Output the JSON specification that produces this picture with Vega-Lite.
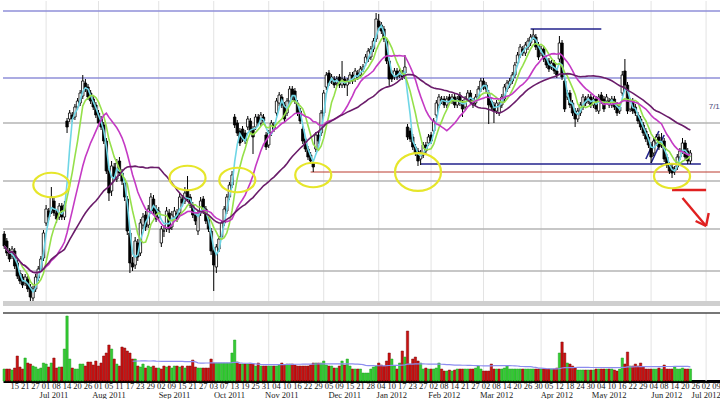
{
"$schema": "https://vega.github.io/schema/vega-lite/v6.json",
"padding": 0,
"spacing": 5,
"background": "white",
"config": {"view": {"stroke": null}, "font": "Liberation Sans"},
"resolve": {"scale": {"x": "independent", "y": "independent"}},
"datasets": {
"ohlc": [
{"d":"2011-06-09","o":26.7,"h":27.0,"l":25.2,"c":25.5,"v":12},
{"d":"2011-06-10","o":26.0,"h":26.3,"l":24.5,"c":24.8,"v":12},
{"d":"2011-06-13","o":25.0,"h":25.3,"l":23.9,"c":24.2,"v":12},
{"d":"2011-06-14","o":24.5,"h":25.5,"l":24.2,"c":25.2,"v":11},
{"d":"2011-06-15","o":25.0,"h":25.3,"l":23.2,"c":23.5,"v":13},
{"d":"2011-06-16","o":23.8,"h":24.1,"l":22.2,"c":22.5,"v":25},
{"d":"2011-06-17","o":22.8,"h":23.1,"l":21.7,"c":22.0,"v":14},
{"d":"2011-06-20","o":22.4,"h":22.7,"l":21.3,"c":21.6,"v":12},
{"d":"2011-06-21","o":21.8,"h":22.7,"l":21.5,"c":22.4,"v":23},
{"d":"2011-06-22","o":22.2,"h":22.5,"l":20.9,"c":21.2,"v":18},
{"d":"2011-06-23","o":21.4,"h":21.7,"l":20.0,"c":20.4,"v":17},
{"d":"2011-06-24","o":20.3,"h":21.5,"l":20.0,"c":21.2,"v":15},
{"d":"2011-06-27","o":21.2,"h":22.7,"l":20.9,"c":22.4,"v":14},
{"d":"2011-06-28","o":22.3,"h":23.5,"l":22.0,"c":23.2,"v":12},
{"d":"2011-06-29","o":23.2,"h":24.5,"l":22.9,"c":24.2,"v":13},
{"d":"2011-06-30","o":24.3,"h":27.1,"l":24.0,"c":26.8,"v":18},
{"d":"2011-07-01","o":27.8,"h":29.6,"l":27.5,"c":29.2,"v":17},
{"d":"2011-07-05","o":29.0,"h":29.3,"l":28.1,"c":28.4,"v":14},
{"d":"2011-07-06","o":29.0,"h":31.4,"l":28.7,"c":30.4,"v":18},
{"d":"2011-07-07","o":30.0,"h":30.3,"l":28.5,"c":28.8,"v":23},
{"d":"2011-07-08","o":28.8,"h":29.1,"l":27.8,"c":28.2,"v":13},
{"d":"2011-07-11","o":28.4,"h":29.8,"l":28.1,"c":29.5,"v":14},
{"d":"2011-07-12","o":29.5,"h":29.8,"l":28.1,"c":28.4,"v":14},
{"d":"2011-07-13","o":28.4,"h":30.0,"l":28.1,"c":29.6,"v":32},
{"d":"2011-07-14","o":38.0,"h":38.3,"l":36.8,"c":37.4,"v":65},
{"d":"2011-07-15","o":38.2,"h":39.1,"l":37.9,"c":38.8,"v":22},
{"d":"2011-07-18","o":38.6,"h":38.9,"l":37.9,"c":38.2,"v":13},
{"d":"2011-07-19","o":38.4,"h":39.7,"l":38.1,"c":39.4,"v":12},
{"d":"2011-07-20","o":39.4,"h":40.3,"l":39.1,"c":40.0,"v":12},
{"d":"2011-07-21","o":39.8,"h":41.1,"l":39.5,"c":40.8,"v":17},
{"d":"2011-07-22","o":40.5,"h":42.6,"l":40.2,"c":42.0,"v":17},
{"d":"2011-07-25","o":41.8,"h":42.2,"l":40.9,"c":41.2,"v":15},
{"d":"2011-07-26","o":41.4,"h":41.7,"l":40.1,"c":40.4,"v":19},
{"d":"2011-07-27","o":40.8,"h":41.1,"l":39.7,"c":40.0,"v":19},
{"d":"2011-07-28","o":40.2,"h":40.5,"l":39.1,"c":39.4,"v":16},
{"d":"2011-07-29","o":39.6,"h":39.9,"l":38.3,"c":38.6,"v":20},
{"d":"2011-08-01","o":38.8,"h":39.1,"l":37.5,"c":37.8,"v":15},
{"d":"2011-08-02","o":38.2,"h":38.5,"l":37.1,"c":37.4,"v":18},
{"d":"2011-08-03","o":37.6,"h":37.9,"l":35.7,"c":36.0,"v":25},
{"d":"2011-08-04","o":36.0,"h":36.3,"l":32.7,"c":33.0,"v":28},
{"d":"2011-08-05","o":33.0,"h":33.3,"l":30.0,"c":30.8,"v":36},
{"d":"2011-08-08","o":31.0,"h":34.0,"l":30.5,"c":33.5,"v":32},
{"d":"2011-08-09","o":33.4,"h":33.8,"l":32.0,"c":32.4,"v":22},
{"d":"2011-08-10","o":32.2,"h":34.2,"l":31.9,"c":33.8,"v":17},
{"d":"2011-08-11","o":34.0,"h":34.4,"l":32.5,"c":32.8,"v":15},
{"d":"2011-08-12","o":32.8,"h":33.2,"l":31.6,"c":32.0,"v":34},
{"d":"2011-08-15","o":31.8,"h":32.2,"l":30.0,"c":30.4,"v":33},
{"d":"2011-08-16","o":30.2,"h":30.5,"l":26.6,"c":27.0,"v":30},
{"d":"2011-08-17","o":26.8,"h":27.1,"l":22.8,"c":23.8,"v":28},
{"d":"2011-08-18","o":23.8,"h":24.4,"l":23.0,"c":23.4,"v":22},
{"d":"2011-08-19","o":23.6,"h":26.4,"l":23.2,"c":26.0,"v":22},
{"d":"2011-08-22","o":25.8,"h":26.2,"l":24.0,"c":24.4,"v":15},
{"d":"2011-08-23","o":24.8,"h":28.2,"l":24.5,"c":27.8,"v":14},
{"d":"2011-08-24","o":27.6,"h":28.8,"l":27.2,"c":28.4,"v":17},
{"d":"2011-08-25","o":28.6,"h":29.0,"l":27.0,"c":27.4,"v":13},
{"d":"2011-08-26","o":27.6,"h":29.6,"l":27.3,"c":29.2,"v":15},
{"d":"2011-08-29","o":29.0,"h":30.8,"l":28.7,"c":30.4,"v":14},
{"d":"2011-08-30","o":30.2,"h":30.6,"l":28.7,"c":29.0,"v":15},
{"d":"2011-08-31","o":29.2,"h":29.6,"l":27.9,"c":28.2,"v":13},
{"d":"2011-09-01","o":28.4,"h":29.4,"l":28.0,"c":29.0,"v":13},
{"d":"2011-09-02","o":25.8,"h":27.5,"l":25.4,"c":27.2,"v":12},
{"d":"2011-09-06","o":27.0,"h":27.6,"l":26.4,"c":27.0,"v":15},
{"d":"2011-09-07","o":27.2,"h":29.4,"l":26.9,"c":29.0,"v":14},
{"d":"2011-09-08","o":28.8,"h":29.2,"l":26.8,"c":27.2,"v":15},
{"d":"2011-09-09","o":27.4,"h":29.0,"l":27.1,"c":28.6,"v":13},
{"d":"2011-09-12","o":28.4,"h":29.4,"l":28.1,"c":29.0,"v":15},
{"d":"2011-09-13","o":28.8,"h":29.2,"l":27.9,"c":28.2,"v":15},
{"d":"2011-09-14","o":28.8,"h":30.8,"l":28.5,"c":30.4,"v":14},
{"d":"2011-09-15","o":30.2,"h":30.6,"l":29.5,"c":29.8,"v":15},
{"d":"2011-09-16","o":30.0,"h":31.4,"l":29.7,"c":30.8,"v":13},
{"d":"2011-09-19","o":31.0,"h":32.5,"l":29.9,"c":30.2,"v":15},
{"d":"2011-09-20","o":30.4,"h":30.7,"l":29.3,"c":29.6,"v":15},
{"d":"2011-09-21","o":29.6,"h":29.9,"l":28.3,"c":28.6,"v":21},
{"d":"2011-09-22","o":28.6,"h":28.9,"l":27.6,"c":28.0,"v":14},
{"d":"2011-09-23","o":27.0,"h":29.1,"l":26.6,"c":28.8,"v":13},
{"d":"2011-09-26","o":28.8,"h":30.4,"l":28.5,"c":30.0,"v":13},
{"d":"2011-09-27","o":30.2,"h":30.5,"l":28.7,"c":29.0,"v":13},
{"d":"2011-09-28","o":29.2,"h":29.5,"l":27.7,"c":28.0,"v":13},
{"d":"2011-09-29","o":28.2,"h":28.5,"l":26.9,"c":27.2,"v":13},
{"d":"2011-09-30","o":27.0,"h":27.3,"l":24.6,"c":25.0,"v":22},
{"d":"2011-10-03","o":25.0,"h":25.3,"l":21.0,"c":23.6,"v":18},
{"d":"2011-10-04","o":23.4,"h":25.7,"l":22.8,"c":25.4,"v":18},
{"d":"2011-10-05","o":25.2,"h":26.5,"l":24.9,"c":26.2,"v":18},
{"d":"2011-10-06","o":26.4,"h":28.1,"l":26.1,"c":27.8,"v":18},
{"d":"2011-10-07","o":27.8,"h":29.5,"l":27.5,"c":29.2,"v":18},
{"d":"2011-10-10","o":29.0,"h":30.7,"l":28.7,"c":30.4,"v":18},
{"d":"2011-10-11","o":30.4,"h":31.9,"l":30.1,"c":31.6,"v":18},
{"d":"2011-10-12","o":31.6,"h":33.0,"l":31.3,"c":32.6,"v":28},
{"d":"2011-10-13","o":38.4,"h":38.7,"l":37.3,"c":37.6,"v":41},
{"d":"2011-10-14","o":37.8,"h":38.1,"l":36.5,"c":36.8,"v":19},
{"d":"2011-10-17","o":37.0,"h":37.3,"l":35.5,"c":35.8,"v":17},
{"d":"2011-10-18","o":37.2,"h":37.5,"l":35.9,"c":36.2,"v":17},
{"d":"2011-10-19","o":36.8,"h":37.1,"l":35.7,"c":36.0,"v":17},
{"d":"2011-10-20","o":37.4,"h":38.5,"l":37.1,"c":38.2,"v":17},
{"d":"2011-10-21","o":38.0,"h":38.3,"l":36.7,"c":37.0,"v":17},
{"d":"2011-10-24","o":37.2,"h":37.5,"l":34.7,"c":36.4,"v":17},
{"d":"2011-10-25","o":37.4,"h":38.7,"l":37.1,"c":38.4,"v":15},
{"d":"2011-10-26","o":38.4,"h":38.7,"l":37.5,"c":37.8,"v":18},
{"d":"2011-10-27","o":37.8,"h":38.9,"l":37.5,"c":38.6,"v":15},
{"d":"2011-10-28","o":38.4,"h":38.7,"l":37.7,"c":38.0,"v":15},
{"d":"2011-10-31","o":36.6,"h":36.9,"l":35.1,"c":35.4,"v":15},
{"d":"2011-11-01","o":35.6,"h":37.1,"l":35.3,"c":36.8,"v":15},
{"d":"2011-11-02","o":36.8,"h":38.1,"l":36.5,"c":37.8,"v":15},
{"d":"2011-11-03","o":37.6,"h":37.9,"l":36.9,"c":37.2,"v":15},
{"d":"2011-11-04","o":38.8,"h":40.3,"l":38.5,"c":40.0,"v":15},
{"d":"2011-11-07","o":39.8,"h":40.9,"l":39.5,"c":40.6,"v":16},
{"d":"2011-11-08","o":40.4,"h":40.7,"l":39.3,"c":39.6,"v":18},
{"d":"2011-11-09","o":39.6,"h":39.9,"l":37.9,"c":38.2,"v":16},
{"d":"2011-11-10","o":38.8,"h":40.3,"l":38.5,"c":40.0,"v":17},
{"d":"2011-11-11","o":40.0,"h":41.5,"l":39.7,"c":41.2,"v":17},
{"d":"2011-11-14","o":41.2,"h":41.5,"l":40.1,"c":40.4,"v":17},
{"d":"2011-11-15","o":41.0,"h":41.3,"l":39.7,"c":40.0,"v":16},
{"d":"2011-11-16","o":39.8,"h":40.1,"l":38.5,"c":38.8,"v":15},
{"d":"2011-11-17","o":39.0,"h":39.3,"l":37.7,"c":38.0,"v":15},
{"d":"2011-11-18","o":37.2,"h":37.5,"l":35.7,"c":36.0,"v":15},
{"d":"2011-11-21","o":36.2,"h":36.5,"l":34.9,"c":35.2,"v":15},
{"d":"2011-11-22","o":35.2,"h":35.5,"l":34.1,"c":34.4,"v":15},
{"d":"2011-11-23","o":34.6,"h":34.9,"l":33.7,"c":34.0,"v":16},
{"d":"2011-11-25","o":33.8,"h":34.1,"l":32.9,"c":33.4,"v":18},
{"d":"2011-11-28","o":35.2,"h":36.9,"l":34.9,"c":36.6,"v":18},
{"d":"2011-11-29","o":36.6,"h":36.9,"l":35.7,"c":36.0,"v":18},
{"d":"2011-11-30","o":36.8,"h":39.1,"l":36.5,"c":38.8,"v":18},
{"d":"2011-12-01","o":38.8,"h":41.1,"l":38.5,"c":40.8,"v":20},
{"d":"2011-12-02","o":41.4,"h":42.9,"l":41.1,"c":42.6,"v":16},
{"d":"2011-12-05","o":42.8,"h":43.1,"l":41.5,"c":41.8,"v":15},
{"d":"2011-12-06","o":42.0,"h":42.7,"l":41.7,"c":42.4,"v":15},
{"d":"2011-12-07","o":42.2,"h":42.5,"l":41.3,"c":41.6,"v":13},
{"d":"2011-12-08","o":41.8,"h":42.5,"l":41.5,"c":42.2,"v":13},
{"d":"2011-12-09","o":42.4,"h":42.7,"l":41.3,"c":41.6,"v":15},
{"d":"2011-12-12","o":41.6,"h":44.0,"l":41.3,"c":42.2,"v":20},
{"d":"2011-12-13","o":42.2,"h":42.5,"l":41.3,"c":41.6,"v":16},
{"d":"2011-12-14","o":41.6,"h":42.3,"l":40.5,"c":42.0,"v":22},
{"d":"2011-12-15","o":42.0,"h":42.9,"l":41.7,"c":42.6,"v":15},
{"d":"2011-12-16","o":42.6,"h":42.9,"l":41.7,"c":42.0,"v":12},
{"d":"2011-12-19","o":42.2,"h":43.3,"l":41.9,"c":43.0,"v":12},
{"d":"2011-12-20","o":42.8,"h":43.1,"l":42.1,"c":42.4,"v":12},
{"d":"2011-12-21","o":42.6,"h":43.5,"l":42.3,"c":43.2,"v":12},
{"d":"2011-12-22","o":43.2,"h":43.7,"l":42.9,"c":43.4,"v":8},
{"d":"2011-12-23","o":43.8,"h":44.7,"l":43.5,"c":44.4,"v":8},
{"d":"2011-12-27","o":44.2,"h":45.3,"l":43.9,"c":45.0,"v":8},
{"d":"2011-12-28","o":44.4,"h":45.5,"l":44.1,"c":45.2,"v":12},
{"d":"2011-12-29","o":45.2,"h":46.3,"l":44.9,"c":46.0,"v":14},
{"d":"2011-12-30","o":46.2,"h":48.8,"l":45.9,"c":48.2,"v":15},
{"d":"2012-01-03","o":48.0,"h":48.7,"l":47.1,"c":47.4,"v":18},
{"d":"2012-01-04","o":47.6,"h":47.9,"l":46.7,"c":47.0,"v":16},
{"d":"2012-01-05","o":47.2,"h":47.5,"l":45.9,"c":46.2,"v":15},
{"d":"2012-01-06","o":46.0,"h":46.3,"l":43.7,"c":44.0,"v":20},
{"d":"2012-01-09","o":44.0,"h":44.3,"l":41.5,"c":42.2,"v":28},
{"d":"2012-01-10","o":42.8,"h":43.1,"l":41.9,"c":42.2,"v":22},
{"d":"2012-01-11","o":42.4,"h":43.3,"l":42.1,"c":43.0,"v":15},
{"d":"2012-01-12","o":43.0,"h":43.3,"l":42.1,"c":42.4,"v":12},
{"d":"2012-01-13","o":42.6,"h":43.3,"l":42.3,"c":43.0,"v":18},
{"d":"2012-01-17","o":42.8,"h":43.1,"l":42.1,"c":42.4,"v":30},
{"d":"2012-01-18","o":42.8,"h":44.6,"l":42.2,"c":43.4,"v":24},
{"d":"2012-01-19","o":37.4,"h":37.7,"l":36.1,"c":36.4,"v":50},
{"d":"2012-01-20","o":37.0,"h":37.3,"l":35.9,"c":36.2,"v":17},
{"d":"2012-01-23","o":36.4,"h":36.7,"l":35.1,"c":35.4,"v":22},
{"d":"2012-01-24","o":35.4,"h":35.7,"l":34.5,"c":34.8,"v":24},
{"d":"2012-01-25","o":35.0,"h":35.3,"l":33.5,"c":34.0,"v":20},
{"d":"2012-01-26","o":34.2,"h":35.1,"l":33.6,"c":34.8,"v":18},
{"d":"2012-01-27","o":34.6,"h":35.9,"l":34.3,"c":35.6,"v":12},
{"d":"2012-01-30","o":35.6,"h":35.9,"l":34.7,"c":35.0,"v":13},
{"d":"2012-01-31","o":35.8,"h":36.7,"l":35.5,"c":36.4,"v":12},
{"d":"2012-02-01","o":36.6,"h":36.9,"l":35.7,"c":36.0,"v":12},
{"d":"2012-02-02","o":37.0,"h":38.3,"l":36.7,"c":38.0,"v":12},
{"d":"2012-02-03","o":38.6,"h":40.1,"l":38.3,"c":39.8,"v":13},
{"d":"2012-02-06","o":39.6,"h":40.7,"l":39.3,"c":40.4,"v":18},
{"d":"2012-02-07","o":40.2,"h":40.5,"l":39.7,"c":40.0,"v":12},
{"d":"2012-02-08","o":40.2,"h":40.5,"l":39.3,"c":39.6,"v":10},
{"d":"2012-02-09","o":39.6,"h":40.5,"l":39.3,"c":40.2,"v":10},
{"d":"2012-02-10","o":40.4,"h":40.7,"l":39.7,"c":40.0,"v":11},
{"d":"2012-02-13","o":40.0,"h":40.7,"l":39.7,"c":40.4,"v":10},
{"d":"2012-02-14","o":40.4,"h":40.7,"l":39.3,"c":39.6,"v":11},
{"d":"2012-02-15","o":39.6,"h":40.5,"l":39.3,"c":40.2,"v":12},
{"d":"2012-02-16","o":40.6,"h":40.9,"l":39.5,"c":39.8,"v":12},
{"d":"2012-02-17","o":39.8,"h":40.1,"l":38.4,"c":39.2,"v":12},
{"d":"2012-02-21","o":39.4,"h":40.5,"l":39.1,"c":40.2,"v":12},
{"d":"2012-02-22","o":40.2,"h":41.1,"l":39.9,"c":40.8,"v":12},
{"d":"2012-02-23","o":40.8,"h":41.1,"l":39.7,"c":40.0,"v":12},
{"d":"2012-02-24","o":40.0,"h":40.3,"l":39.3,"c":39.6,"v":12},
{"d":"2012-02-27","o":39.8,"h":40.7,"l":39.5,"c":40.4,"v":13},
{"d":"2012-02-28","o":40.4,"h":41.5,"l":40.1,"c":41.2,"v":15},
{"d":"2012-02-29","o":41.2,"h":42.3,"l":40.9,"c":42.0,"v":12},
{"d":"2012-03-01","o":42.0,"h":42.3,"l":41.1,"c":41.4,"v":10},
{"d":"2012-03-02","o":41.6,"h":41.9,"l":40.9,"c":41.2,"v":10},
{"d":"2012-03-05","o":40.8,"h":41.1,"l":37.7,"c":39.6,"v":10},
{"d":"2012-03-06","o":40.0,"h":40.3,"l":39.1,"c":39.4,"v":17},
{"d":"2012-03-07","o":39.6,"h":39.9,"l":37.8,"c":39.0,"v":12},
{"d":"2012-03-08","o":39.0,"h":40.1,"l":38.7,"c":39.8,"v":12},
{"d":"2012-03-09","o":38.8,"h":39.9,"l":38.5,"c":39.6,"v":12},
{"d":"2012-03-12","o":39.6,"h":40.7,"l":39.3,"c":40.4,"v":12},
{"d":"2012-03-13","o":40.2,"h":41.7,"l":39.9,"c":41.4,"v":13},
{"d":"2012-03-14","o":41.2,"h":42.1,"l":40.9,"c":41.8,"v":15},
{"d":"2012-03-15","o":41.6,"h":42.3,"l":41.3,"c":42.0,"v":12},
{"d":"2012-03-16","o":42.0,"h":42.9,"l":41.7,"c":42.6,"v":12},
{"d":"2012-03-19","o":42.6,"h":43.9,"l":42.3,"c":43.6,"v":12},
{"d":"2012-03-20","o":43.8,"h":44.9,"l":43.5,"c":44.6,"v":12},
{"d":"2012-03-21","o":44.6,"h":45.7,"l":44.3,"c":45.4,"v":12},
{"d":"2012-03-22","o":45.2,"h":45.5,"l":44.5,"c":44.8,"v":12},
{"d":"2012-03-23","o":44.8,"h":45.9,"l":44.5,"c":45.6,"v":12},
{"d":"2012-03-26","o":45.4,"h":46.3,"l":45.1,"c":46.0,"v":12},
{"d":"2012-03-27","o":45.8,"h":46.7,"l":45.5,"c":46.4,"v":12},
{"d":"2012-03-28","o":46.4,"h":47.2,"l":46.1,"c":46.6,"v":12},
{"d":"2012-03-29","o":46.4,"h":46.7,"l":45.1,"c":45.4,"v":12},
{"d":"2012-03-30","o":45.6,"h":45.9,"l":44.1,"c":44.4,"v":12},
{"d":"2012-04-02","o":44.8,"h":45.5,"l":44.5,"c":45.2,"v":12},
{"d":"2012-04-03","o":45.2,"h":45.5,"l":43.9,"c":44.2,"v":12},
{"d":"2012-04-04","o":44.2,"h":44.5,"l":43.3,"c":43.6,"v":12},
{"d":"2012-04-05","o":44.0,"h":44.3,"l":42.9,"c":43.2,"v":12},
{"d":"2012-04-09","o":43.4,"h":44.1,"l":43.1,"c":43.8,"v":12},
{"d":"2012-04-10","o":43.8,"h":44.1,"l":42.7,"c":43.0,"v":12},
{"d":"2012-04-11","o":43.0,"h":43.3,"l":42.3,"c":42.6,"v":13},
{"d":"2012-04-12","o":44.2,"h":46.5,"l":43.9,"c":45.8,"v":28},
{"d":"2012-04-13","o":45.8,"h":46.1,"l":42.1,"c":42.4,"v":39},
{"d":"2012-04-16","o":42.0,"h":42.3,"l":38.9,"c":39.2,"v":28},
{"d":"2012-04-17","o":40.4,"h":41.1,"l":40.1,"c":40.8,"v":18},
{"d":"2012-04-18","o":40.8,"h":41.1,"l":39.3,"c":39.6,"v":17},
{"d":"2012-04-19","o":39.8,"h":40.1,"l":38.5,"c":38.8,"v":15},
{"d":"2012-04-20","o":39.0,"h":39.3,"l":37.4,"c":38.2,"v":13},
{"d":"2012-04-23","o":38.2,"h":39.3,"l":37.9,"c":39.0,"v":11},
{"d":"2012-04-24","o":38.8,"h":39.9,"l":38.5,"c":39.6,"v":11},
{"d":"2012-04-25","o":39.4,"h":40.7,"l":39.1,"c":40.4,"v":11},
{"d":"2012-04-26","o":40.2,"h":40.5,"l":39.5,"c":39.8,"v":11},
{"d":"2012-04-27","o":40.0,"h":40.7,"l":39.7,"c":40.4,"v":11},
{"d":"2012-04-30","o":40.4,"h":40.7,"l":39.3,"c":39.6,"v":11},
{"d":"2012-05-01","o":39.6,"h":40.5,"l":39.3,"c":40.2,"v":11},
{"d":"2012-05-02","o":40.2,"h":40.5,"l":38.9,"c":39.2,"v":12},
{"d":"2012-05-03","o":39.0,"h":40.7,"l":38.7,"c":40.4,"v":12},
{"d":"2012-05-04","o":40.6,"h":40.9,"l":39.7,"c":40.0,"v":12},
{"d":"2012-05-07","o":40.2,"h":40.5,"l":38.9,"c":39.2,"v":12},
{"d":"2012-05-08","o":40.0,"h":40.7,"l":39.7,"c":40.4,"v":12},
{"d":"2012-05-09","o":40.0,"h":40.3,"l":39.3,"c":39.6,"v":12},
{"d":"2012-05-10","o":39.6,"h":40.5,"l":39.3,"c":40.2,"v":12},
{"d":"2012-05-11","o":40.2,"h":40.5,"l":39.1,"c":39.4,"v":11},
{"d":"2012-05-14","o":39.6,"h":39.9,"l":38.5,"c":38.8,"v":10},
{"d":"2012-05-15","o":39.0,"h":39.7,"l":38.7,"c":39.4,"v":12},
{"d":"2012-05-16","o":40.8,"h":43.0,"l":40.5,"c":42.6,"v":23},
{"d":"2012-05-17","o":43.0,"h":44.2,"l":41.3,"c":41.6,"v":17},
{"d":"2012-05-18","o":41.6,"h":41.9,"l":38.7,"c":39.0,"v":29},
{"d":"2012-05-21","o":39.2,"h":40.3,"l":38.9,"c":40.0,"v":15},
{"d":"2012-05-22","o":40.0,"h":40.3,"l":38.7,"c":39.0,"v":15},
{"d":"2012-05-23","o":39.4,"h":39.7,"l":38.5,"c":38.8,"v":17},
{"d":"2012-05-24","o":38.6,"h":38.9,"l":37.7,"c":38.0,"v":15},
{"d":"2012-05-25","o":38.2,"h":38.5,"l":37.1,"c":37.4,"v":18},
{"d":"2012-05-29","o":37.6,"h":37.9,"l":36.5,"c":36.8,"v":14},
{"d":"2012-05-30","o":37.0,"h":37.3,"l":35.9,"c":36.2,"v":12},
{"d":"2012-05-31","o":36.4,"h":36.7,"l":35.3,"c":35.6,"v":12},
{"d":"2012-06-01","o":35.6,"h":35.9,"l":33.8,"c":34.4,"v":12},
{"d":"2012-06-04","o":34.8,"h":36.3,"l":34.5,"c":36.0,"v":12},
{"d":"2012-06-05","o":35.8,"h":36.7,"l":35.5,"c":36.4,"v":12},
{"d":"2012-06-06","o":36.4,"h":36.7,"l":35.1,"c":35.4,"v":13},
{"d":"2012-06-07","o":35.6,"h":36.8,"l":35.3,"c":36.0,"v":12},
{"d":"2012-06-08","o":36.0,"h":36.3,"l":33.9,"c":34.2,"v":16},
{"d":"2012-06-11","o":34.4,"h":34.7,"l":33.3,"c":33.6,"v":12},
{"d":"2012-06-12","o":33.6,"h":33.9,"l":32.7,"c":33.0,"v":12},
{"d":"2012-06-13","o":33.4,"h":33.7,"l":32.3,"c":32.8,"v":12},
{"d":"2012-06-14","o":33.0,"h":33.5,"l":32.6,"c":33.2,"v":14},
{"d":"2012-06-15","o":33.4,"h":34.7,"l":33.1,"c":34.4,"v":12},
{"d":"2012-06-18","o":34.4,"h":35.3,"l":34.1,"c":35.0,"v":12},
{"d":"2012-06-19","o":35.0,"h":36.3,"l":34.7,"c":35.8,"v":13},
{"d":"2012-06-20","o":35.8,"h":36.1,"l":34.1,"c":34.4,"v":12},
{"d":"2012-06-21","o":35.0,"h":35.3,"l":33.7,"c":34.0,"v":12},
{"d":"2012-06-22","o":34.0,"h":35.1,"l":33.7,"c":34.8,"v":12},
{"d":"2012-06-25"},{"d":"2012-06-26"},{"d":"2012-06-27"},{"d":"2012-06-28"},{"d":"2012-06-29"},
{"d":"2012-07-02"},{"d":"2012-07-03"},{"d":"2012-07-05"},{"d":"2012-07-06"},{"d":"2012-07-09"},{"d":"2012-07-10"},{"d":"2012-07-11"}
],
"months": [{"d":"2011-07-01"},{"d":"2011-08-01"},{"d":"2011-09-01"},{"d":"2011-10-03"},{"d":"2011-11-01"},{"d":"2011-12-01"},{"d":"2012-01-03"},{"d":"2012-02-01"},{"d":"2012-03-01"},{"d":"2012-04-02"},{"d":"2012-05-01"},{"d":"2012-06-01"},{"d":"2012-07-02"}],
"levels": [{"p":49.0,"k":"lav"},{"p":42.3,"k":"lav"},{"p":37.8,"k":"gray"},{"p":32.0,"k":"gray"},{"p":27.2,"k":"gray"},{"p":23.0,"k":"gray"}],
"segs": [
{"d":"2012-03-27","d2":"2012-05-04","p":47.2,"p2":47.2,"k":"navy"},
{"d":"2012-01-26","d2":"2012-06-28","p":33.7,"p2":33.7,"k":"navy"},
{"d":"2011-11-23","d2":"2012-07-11","p":32.9,"p2":32.9,"k":"red"},
{"d":"2012-06-13","d2":"2012-07-02","p":31.1,"p2":31.1,"k":"mark"},
{"d":"2012-06-19","d2":"2012-07-02","p":30.3,"p2":27.5,"k":"mark"},
{"d":"2012-07-02","d2":"2012-07-03","p":27.5,"p2":28.8,"k":"mark"},
{"d":"2012-07-02","d2":"2012-06-26","p":27.5,"p2":28.0,"k":"mark"},
{"d":"2012-05-30","d2":"2012-06-06","p":34.2,"p2":37.0,"k":"navy"},
{"d":"2012-06-01","d2":"2012-06-08","p":33.8,"p2":36.6,"k":"navy"}
],
"rings": [{"d":"2011-07-06","p":31.6},{"d":"2011-09-19","p":32.3},{"d":"2011-10-14","p":32.1},{"d":"2011-11-25","p":32.6},{"d":"2012-06-13","p":32.5}],
"ringBig": [{"d":"2012-01-25","p":32.9}],
"notes": [{"d":"2012-07-03","p":39.4,"t":"7/1"}]
},
"vconcat": [
{
"width": 720,
"height": 305,
"layer": [
{"data":{"name":"months"},"mark":{"type":"rule","color":"#e3e3e3","strokeWidth":1},
 "encoding":{"x":{"field":"d","type":"ordinal","scale":{"type":"band","paddingInner":0.08,"paddingOuter":0},"axis":null}}},
{"data":{"name":"levels"},"mark":{"type":"rule","strokeWidth":1.3},
 "encoding":{"y":{"field":"p","type":"quantitative","scale":{"domain":[19.5,50],"zero":false,"nice":false},"axis":null},
  "color":{"condition":{"test":"datum.k === 'lav'","value":"#8f8fd9"},"value":"#b4b4b4"}}},
{"data":{"values":[{}]},"mark":{"type":"rule","color":"#cfcfcf","strokeWidth":5},
 "encoding":{"y":{"datum":19.75,"type":"quantitative","scale":{"domain":[19.5,50],"zero":false,"nice":false},"axis":null}}},
{"data":{"name":"segs"},"mark":{"type":"rule"},
 "encoding":{"x":{"field":"d","type":"ordinal","scale":{"type":"band","paddingInner":0.08,"paddingOuter":0},"axis":null},
  "x2":{"field":"d2"},
  "y":{"field":"p","type":"quantitative","scale":{"domain":[19.5,50],"zero":false,"nice":false},"axis":null},
  "y2":{"field":"p2"},
  "color":{"condition":[{"test":"datum.k === 'navy'","value":"#22228c"},{"test":"datum.k === 'red'","value":"#bb3b2e"}],"value":"#e02020"},
  "strokeWidth":{"condition":[{"test":"datum.k === 'navy'","value":1.6},{"test":"datum.k === 'red'","value":1}],"value":2.4}}},
{"data":{"name":"ohlc"},"mark":{"type":"rule","color":"#000000","strokeWidth":1},
 "encoding":{"x":{"field":"d","type":"ordinal","scale":{"type":"band","paddingInner":0.08,"paddingOuter":0},"axis":null},
  "y":{"field":"l","type":"quantitative","scale":{"domain":[19.5,50],"zero":false,"nice":false},"axis":null},
  "y2":{"field":"h"}}},
{"data":{"name":"ohlc"},"mark":{"type":"bar","stroke":"#000000","strokeWidth":0.8},
 "encoding":{"x":{"field":"d","type":"ordinal","scale":{"type":"band","paddingInner":0.08,"paddingOuter":0},"axis":null},
  "y":{"field":"o","type":"quantitative","scale":{"domain":[19.5,50],"zero":false,"nice":false},"axis":null},
  "y2":{"field":"c"},
  "fill":{"condition":{"test":"datum.c >= datum.o","value":"#ffffff"},"value":"#000000"}}},
{"data":{"name":"ohlc"},
 "transform":[
  {"filter":"isValid(datum.c)"},
  {"window":[{"op":"mean","field":"c","as":"m5"}],"frame":[-2,0],"sort":[{"field":"d"}]},
  {"window":[{"op":"mean","field":"c","as":"m10"}],"frame":[-6,0],"sort":[{"field":"d"}]},
  {"window":[{"op":"mean","field":"c","as":"m20"}],"frame":[-15,0],"sort":[{"field":"d"}]},
  {"window":[{"op":"mean","field":"c","as":"m50"}],"frame":[-35,0],"sort":[{"field":"d"}]},
  {"fold":["m5","m10","m20","m50"],"as":["ma","mv"]}
 ],
 "mark":{"type":"line","strokeWidth":1.6},
 "encoding":{"x":{"field":"d","type":"ordinal","scale":{"type":"band","paddingInner":0.08,"paddingOuter":0},"axis":null},
  "y":{"field":"mv","type":"quantitative","scale":{"domain":[19.5,50],"zero":false,"nice":false},"axis":null},
  "color":{"field":"ma","type":"nominal","scale":{"domain":["m5","m10","m20","m50"],"range":["#6fd6e6","#95e04a","#c43ac4","#6a1c6a"]},"legend":null}}},
{"data":{"name":"rings"},"mark":{"type":"point","shape":"M-1,0A1,0.68,0,1,1,1,0A1,0.68,0,1,1,-1,0Z","size":1300,"filled":false,"stroke":"#e6e62a","strokeWidth":2.2,"opacity":1},
 "encoding":{"x":{"field":"d","type":"ordinal","scale":{"type":"band","paddingInner":0.08,"paddingOuter":0},"axis":null},
  "y":{"field":"p","type":"quantitative","scale":{"domain":[19.5,50],"zero":false,"nice":false},"axis":null}}},
{"data":{"name":"ringBig"},"mark":{"type":"point","shape":"M-1,0A1,0.82,0,1,1,1,0A1,0.82,0,1,1,-1,0Z","size":2116,"filled":false,"stroke":"#e6e62a","strokeWidth":2.2,"opacity":1},
 "encoding":{"x":{"field":"d","type":"ordinal","scale":{"type":"band","paddingInner":0.08,"paddingOuter":0},"axis":null},
  "y":{"field":"p","type":"quantitative","scale":{"domain":[19.5,50],"zero":false,"nice":false},"axis":null}}},
{"data":{"name":"notes"},"mark":{"type":"text","align":"left","baseline":"middle","fontSize":8,"font":"Liberation Sans","color":"#4a4a7c"},
 "encoding":{"x":{"field":"d","type":"ordinal","scale":{"type":"band","paddingInner":0.08,"paddingOuter":0},"axis":null},
  "y":{"field":"p","type":"quantitative","scale":{"domain":[19.5,50],"zero":false,"nice":false},"axis":null},
  "text":{"field":"t"}}},
{"data":{"name":"ohlc"},"mark":{"type":"point","opacity":0},
 "encoding":{"x":{"field":"d","type":"ordinal","scale":{"type":"band","paddingInner":0.08,"paddingOuter":0},"axis":null}}}
]
},
{
"width": 720,
"height": 68,
"resolve": {"axis": {"x": "independent"}},
"layer": [
{"data":{"name":"ohlc"},"mark":{"type":"point","opacity":0},
 "encoding":{"x":{"field":"d","type":"ordinal","scale":{"type":"band","paddingInner":0.1,"paddingOuter":0},
   "axis":{"values":["2011-06-15","2011-06-21","2011-06-27","2011-07-01","2011-07-08","2011-07-14","2011-07-20","2011-07-26","2011-08-01","2011-08-05","2011-08-11","2011-08-17","2011-08-23","2011-08-29","2011-09-02","2011-09-09","2011-09-15","2011-09-21","2011-09-27","2011-10-03","2011-10-07","2011-10-13","2011-10-19","2011-10-25","2011-10-31","2011-11-04","2011-11-10","2011-11-16","2011-11-22","2011-11-29","2011-12-05","2011-12-09","2011-12-15","2011-12-21","2011-12-28","2012-01-04","2012-01-10","2012-01-17","2012-01-23","2012-01-27","2012-02-02","2012-02-08","2012-02-14","2012-02-21","2012-02-27","2012-03-02","2012-03-08","2012-03-14","2012-03-20","2012-03-26","2012-03-30","2012-04-05","2012-04-12","2012-04-18","2012-04-24","2012-04-30","2012-05-04","2012-05-10","2012-05-16","2012-05-22","2012-05-29","2012-06-04","2012-06-08","2012-06-14","2012-06-20","2012-06-26","2012-07-02","2012-07-09"],
    "labelExpr":"substring(datum.value, 8, 10)",
    "title":null,"grid":false,"ticks":false,"tickSize":0,"domainColor":"#000000","domainWidth":3,"orient":"bottom",
    "labelAngle":0,"labelPadding":0,"labelFont":"Liberation Sans Narrow","labelFontSize":8.5,
    "labelColor":"#1a1a1a","labelOverlap":false,"labelBaseline":"top"}}}},
{"data":{"name":"months"},"mark":{"type":"rule","color":"#e3e3e3","strokeWidth":1},
 "encoding":{"x":{"field":"d","type":"ordinal","scale":{"type":"band","paddingInner":0.1,"paddingOuter":0},"axis":null}}},
{"data":{"name":"ohlc"},
 "transform":[{"window":[{"op":"lag","field":"c","as":"pc"}],"sort":[{"field":"d"}]}],
 "mark":{"type":"bar","strokeWidth":0.5},
 "encoding":{"x":{"field":"d","type":"ordinal","scale":{"type":"band","paddingInner":0.1,"paddingOuter":0},
   "axis":{"values":["2011-07-07","2011-08-05","2011-09-12","2011-10-11","2011-11-08","2011-12-13","2012-01-10","2012-02-08","2012-03-08","2012-04-11","2012-05-09","2012-06-11","2012-07-02"],
    "labelExpr":"utcFormat(toDate(datum.value), '%b %Y')",
    "title":null,"grid":false,"ticks":false,"tickSize":0,"domain":false,"orient":"bottom","offset":9,
    "labelAngle":0,"labelPadding":0,"labelFont":"Liberation Sans Narrow","labelFontSize":8.5,
    "labelColor":"#1a1a1a","labelOverlap":false,"labelBaseline":"top"}},
  "y":{"field":"v","type":"quantitative","scale":{"domain":[0,68],"nice":false},"axis":null},
  "color":{"condition":{"test":"datum.c < datum.pc","value":"#cc1010"},"value":"#33cc33"},
  "stroke":{"condition":{"test":"datum.c < datum.pc","value":"#7d0d0d"},"value":"#22a022"}}},
{"data":{"name":"ohlc"},
 "transform":[
  {"filter":"isValid(datum.v)"},
  {"window":[{"op":"mean","field":"v","as":"vm"},{"op":"count","as":"n"}],"frame":[-49,0],"sort":[{"field":"d"}]},
  {"filter":"datum.n >= 50"}
 ],
 "mark":{"type":"line","color":"#8d8df0","strokeWidth":1.2},
 "encoding":{"x":{"field":"d","type":"ordinal","scale":{"type":"band","paddingInner":0.1,"paddingOuter":0},"axis":null},
  "y":{"field":"vm","type":"quantitative","scale":{"domain":[0,68],"nice":false},"axis":null}}},
{"data":{"values":[{}]},"mark":{"type":"rule","color":"#4a4a4a","strokeWidth":1.5},
 "encoding":{"y":{"datum":68,"type":"quantitative","scale":{"domain":[0,68],"nice":false},"axis":null}}}
]
}
]
}
